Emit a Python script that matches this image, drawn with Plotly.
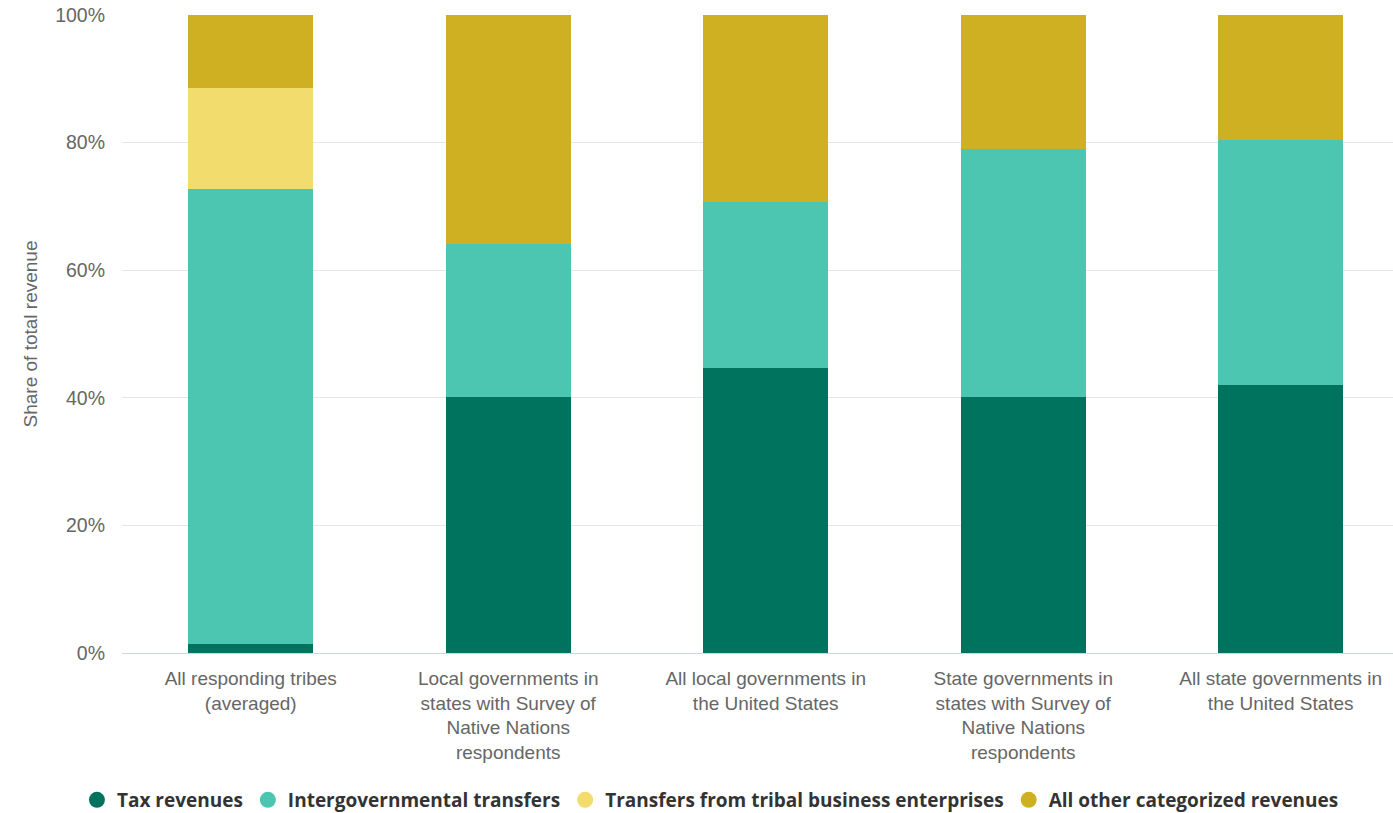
import plotly.graph_objects as go

categories = [
    "All responding tribes<br>(averaged)",
    "Local governments in<br>states with Survey of<br>Native Nations<br>respondents",
    "All local governments in<br>the United States",
    "State governments in<br>states with Survey of<br>Native Nations<br>respondents",
    "All state governments in<br>the United States",
]
tax_revenues = [1.4, 40.2, 44.6, 40.2, 42.0]
intergovernmental = [71.3, 23.9, 26.1, 38.8, 38.4]
tribal_business = [15.8, 0, 0, 0, 0]
other_revenues = [11.5, 35.9, 29.3, 21.0, 19.6]

series = [
    ("Tax revenues", tax_revenues, "#00735F"),
    ("Intergovernmental transfers", intergovernmental, "#4CC5B1"),
    ("Transfers from tribal business enterprises", tribal_business, "#F2DC6D"),
    ("All other categorized revenues", other_revenues, "#CFB022"),
]

fig = go.Figure()
for name, vals, color in series:
    fig.add_trace(go.Bar(
        x=categories, y=vals, name=name, marker_color=color,
        marker_line_width=0, showlegend=False, hoverinfo="name+y",
    ))
for name, vals, color in series:
    fig.add_trace(go.Scatter(
        x=[None], y=[None], mode="markers", name=name,
        marker=dict(symbol="circle", size=20, color=color),
    ))

fig.update_layout(
    barmode="stack",
    bargap=0.514,
    width=1393, height=813,
    margin=dict(l=122, r=0, t=15, b=160),
    plot_bgcolor="white", paper_bgcolor="white",
    font=dict(family="Liberation Sans, Arial, sans-serif", size=19, color="#666666"),
    legend=dict(
        orientation="h", xref="container", yref="container", traceorder="normal",
        x=0.51, xanchor="center", y=0.016, yanchor="middle",
        font=dict(family="Open Sans, sans-serif", size=19, color="#333333", weight="bold"),
        itemsizing="trace", itemwidth=30,
    ),
    xaxis=dict(
        range=[-0.5, 4.436], showgrid=False, showline=True, linecolor="#ccd6eb",
        linewidth=1, ticks="", tickfont=dict(size=19, color="#666666"),
        ticklabelstandoff=8,
    ),
    yaxis=dict(
        range=[0, 100], dtick=20, ticksuffix="%", showgrid=True, gridcolor="#e6e6e6",
        zeroline=False, showline=False, tickfont=dict(size=19.5, color="#666666"),
        ticklabelstandoff=16,
        title=dict(text="Share of total revenue", font=dict(size=19, color="#666666"), standoff=12),
    ),
)

fig.write_html("out.html")
